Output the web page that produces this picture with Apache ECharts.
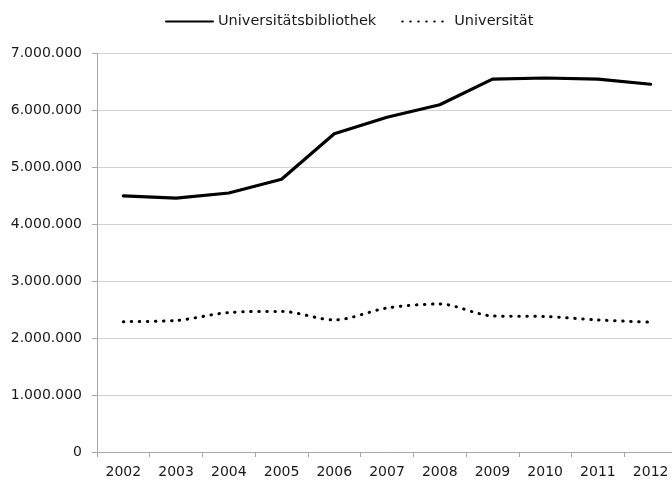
<!DOCTYPE html>
<html>
<head>
<meta charset="utf-8">
<script src="https://cdn.jsdelivr.net/npm/echarts@6/dist/echarts.min.js"></script>
<style>
html,body{margin:0;padding:0;background:#fff;overflow:hidden;width:672px;height:484px;}
#chart{width:678px;height:484px;}
</style>
</head>
<body>
<div id="chart"></div>
<script>
const years = ['2002','2003','2004','2005','2006','2007','2008','2009','2010','2011','2012'];
const seriesNames = ['Universitätsbibliothek','Universität'];
const bibliothek = [4500000,4460000,4550000,4790000,5590000,5880000,6100000,6550000,6570000,6550000,6460000];
const universitaet = [2290000,2310000,2450000,2470000,2320000,2530000,2600000,2390000,2380000,2320000,2280000];
const yTicks = [0,1000000,2000000,3000000,4000000,5000000,6000000,7000000];

function fmt(v){
  return String(Math.round(v)).replace(/\B(?=(\d{3})+(?!\d))/g,'.');
}
const font = 'DejaVu Sans';
const chart = echarts.init(document.getElementById('chart'), null, {renderer:'canvas'});
chart.setOption({
  animation:false,
  backgroundColor:'#ffffff',
  textStyle:{fontFamily:font},
  legend:{
    left:160, top:9,
    itemWidth:47, itemHeight:14, itemGap:25,
    itemStyle:{opacity:0},
    textStyle:{fontFamily:font,fontSize:14.5,color:'#1a1a1a'},
    data:seriesNames
  },
  grid:{left:97, top:53.5, right:1, bottom:32, containLabel:false},
  xAxis:{
    type:'category',
    data:years,
    boundaryGap:true,
    axisLine:{lineStyle:{color:'#a8a8a8',width:1}},
    axisTick:{show:true,interval:0,length:5,lineStyle:{color:'#a8a8a8'}},
    axisLabel:{interval:0,margin:13,fontFamily:font,fontSize:14,color:'#1a1a1a'},
    splitLine:{show:false}
  },
  yAxis:{
    type:'value',
    min:yTicks[0], max:yTicks[yTicks.length-1], interval:1000000,
    axisLine:{show:true,lineStyle:{color:'#a8a8a8',width:1}},
    axisTick:{show:true,length:5,lineStyle:{color:'#a8a8a8'}},
    axisLabel:{margin:15,fontFamily:font,fontSize:14,color:'#1a1a1a',formatter:fmt},
    splitLine:{show:true,lineStyle:{color:'#d2d2d2',width:1.2}}
  },
  series:[
    {
      name:seriesNames[0], type:'line', data:bibliothek,
      symbol:'none', smooth:false,
      lineStyle:{color:'#000',width:3.2,cap:'round',join:'round'},
      itemStyle:{color:'#000'}
    },
    {
      name:seriesNames[1], type:'line', data:universitaet,
      symbol:'none', smooth:0.3,
      lineStyle:{color:'#000',width:3,type:[0.5,7.5],cap:'round'},
      itemStyle:{color:'#000'}
    }
  ]
});
</script>
</body>
</html>
